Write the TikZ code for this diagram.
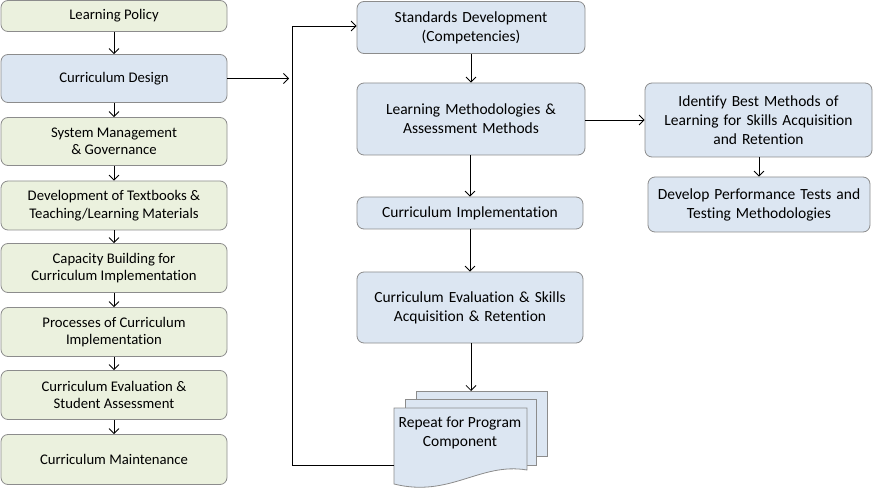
\documentclass[tikz,border=0pt]{standalone}
\usepackage{fontspec}
\setmainfont[Ligatures=NoCommon]{Carlito}
\usetikzlibrary{positioning,arrows.meta}
\definecolor{boxgreen}{RGB}{235,241,222}
\definecolor{boxblue}{RGB}{220,230,242}
\definecolor{boxline}{RGB}{140,140,140}
\newcommand\widesp{\spaceskip=5pt plus 1pt minus 1pt\relax}
\newcommand\midfont{\fontsize{15.5}{19}\selectfont\widesp}
\tikzset{
  >={Straight Barb[length=5pt,width=10pt]},
  stage/.style={draw=boxline, line width=0.8pt, rounded corners=7pt, align=center,
    inner sep=0pt, font=\fontsize{14.7}{17.5}\selectfont},
  leftbox/.style={stage, fill=boxgreen, minimum width=226pt},
  midbox/.style={stage, fill=boxblue, font=\midfont},
  sheet/.style={draw=boxline, line width=0.8pt, fill=boxblue},
  link/.style={->, line width=0.8pt}
}
\begin{document}
\begin{tikzpicture}[x=1pt,y=-1pt]
        \useasboundingbox (0,0) rectangle (876,489);

        % Draw the left column of stages
        \node[leftbox, minimum height=31pt] (lp) at (114,16) {Learning Policy};
        \node[leftbox, fill=boxblue, minimum height=48pt] (cd) at (114,78.5) {Curriculum Design};
        \node[leftbox, minimum height=48pt] (smg) at (114,141.5) {System Management\\\& Governance};
        \node[leftbox, minimum height=49pt] (dtm) at (114,205.5) {Development of Textbooks \&\\Teaching/Learning Materials};
        \node[leftbox, minimum height=49pt] (cbi) at (114,268) {Capacity Building for\\Curriculum Implementation};
        \node[leftbox, minimum height=49pt] (pci) at (114,332) {Processes of Curriculum\\Implementation};
        \node[leftbox, minimum height=49pt] (ces) at (114,395) {Curriculum Evaluation \&\\Student Assessment};
        \node[leftbox, minimum height=50pt] (cm) at (114,459.5) {Curriculum Maintenance};
        \foreach \a/\b in {lp/cd, cd/smg, smg/dtm, dtm/cbi, cbi/pci, pci/ces, ces/cm}
          \draw[link] (\a) -- (\b);

        % Draw the middle column
        \node[midbox, minimum width=228pt, minimum height=52pt] (sd) at (471,27.5) {Standards Development\\(Competencies)};
        \node[midbox, minimum width=228pt, minimum height=72pt] (lm) at (471,119) {Learning Methodologies \&\\Assessment Methods};
        \node[midbox, minimum width=226pt, minimum height=32pt] (ci) at (470,213) {Curriculum Implementation};
        \node[midbox, minimum width=226pt, minimum height=71pt] (ce) at (470,307.5) {Curriculum Evaluation \& Skills\\Acquisition \& Retention};

        % Draw the repeat sheets
        \draw[sheet] (416,391) rectangle (547,456);
        \draw[sheet] (405,399) rectangle (536,465);
        \draw[sheet] (394,408) -- (527,408) -- (527,470)
          .. controls (480,462) and (450,498) .. (394,484) -- cycle;
        \node[align=center, font=\fontsize{15.5}{19}\selectfont] (rep) at (460,433) {Repeat for Program\\Component};
        \coordinate (repTop) at (471,391);
        \coordinate (repLeft) at (394,465);

        % Draw the right column
        \node[midbox, minimum width=227pt, minimum height=74pt] (ib) at (758.5,120) {Identify Best Methods of\\Learning for Skills Acquisition\\and Retention};
        \node[midbox, minimum width=222pt, minimum height=55pt] (dp) at (759,204.5) {Develop Performance Tests and\\Testing Methodologies};

        % Draw the connectors
        \draw[link] (sd) -- (sd |- lm.north);
        \draw[link] (lm.south -| ci) -- (ci);
        \draw[link] (ci) -- (ce);
        \draw[link] (ce.south -| repTop) -- (repTop);
        \draw[link] (lm.east |- ib.west) -- (ib.west);
        \draw[link] (ib.south -| dp) -- (dp);

        % Draw the loop back to the top
        \coordinate (hubIn) at (289,78.5);
        \coordinate (loopTop) at (292,26);
        \coordinate (loopBot) at (292,465);
        \draw[link] (cd.east) -- (hubIn);
        \draw[link] (repLeft) -- (loopBot) -- (loopTop) -- (loopTop -| sd.west);
    \end{tikzpicture}
\end{document}
